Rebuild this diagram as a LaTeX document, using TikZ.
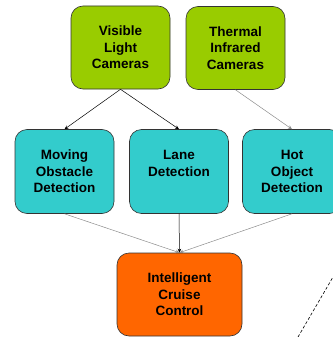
\documentclass[tikz,border=0pt]{standalone}
\usepackage{fontspec}
\setmainfont{Liberation Sans}
\usetikzlibrary{arrows.meta}

\begin{document}
\begin{tikzpicture}[x=1pt, y=1pt,
  block/.style={draw=black!80, rounded corners=12pt, align=center, line width=0.6pt,
    font=\fontsize{13.5}{16.5}\selectfont\bfseries, inner sep=0pt},
  camera/.style={block, fill=camgreen, minimum width=99pt, minimum height=83pt},
  detect/.style={block, fill=detteal, minimum width=99pt, minimum height=84pt},
  link/.style={-{Stealth[length=4pt, width=3.5pt]}, line width=0.5pt},
  faint/.style={link, draw=black!45}]
\definecolor{camgreen}{HTML}{99CC00}
\definecolor{detteal}{HTML}{33CCCC}
\definecolor{ctrlorange}{HTML}{FF6600}
\useasboundingbox (0,0) rectangle (332,-337);

% Sensors
\node[camera] (vis) at (120.5,-47.5) {Visible\\Light\\Cameras};
\node[camera] (therm) at (235.5,-48) {Thermal\\Infrared\\Cameras};

% Detection modules
\node[detect] (move) at (64.5,-171.5) {Moving\\Obstacle\\Detection};
\node[detect] (lane) at (179,-171.5) {Lane\\Detection\\\mbox{}};
\node[detect] (hot) at (292,-171.5) {Hot\\Object\\Detection};

% Controller
\node[block, fill=ctrlorange, minimum width=125pt, minimum height=83pt] (icc) at (179.5,-294.5) {Intelligent\\Cruise\\Control};

% Edges
\draw[link] (vis.south) -- (move.north);
\draw[link] (vis.south) -- (lane.north);
\draw[faint] (therm.south) -- (hot.north);
\draw[faint] (move.south) -- (icc.north);
\draw[link] (lane.south) -- (icc.north);
\draw[faint] (hot.south) -- (icc.north);

% Dotted line at the corner
\coordinate (dotA) at (298,-337);
\coordinate (dotB) at (333,-277);
\draw[densely dashed, line width=0.6pt] (dotA) -- (dotB);
\end{tikzpicture}
\end{document}
